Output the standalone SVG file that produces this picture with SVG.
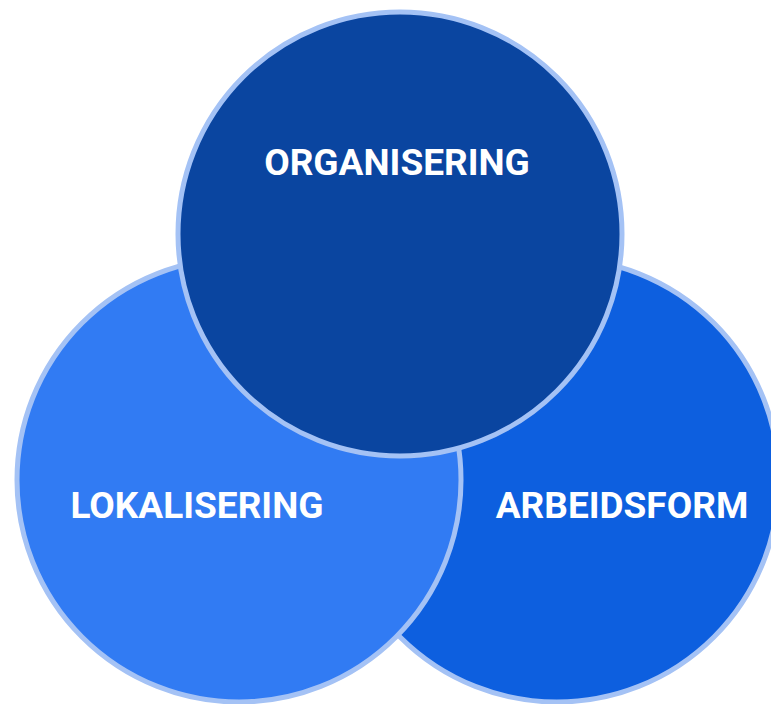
<svg xmlns="http://www.w3.org/2000/svg" width="771" height="704" viewBox="0 0 771 704">
<style>
.c{stroke:#a4c2f5;stroke-width:5}
.t{font-family:Roboto,"Liberation Sans",sans-serif;font-weight:bold;font-size:37px;fill:#ffffff;text-anchor:middle}
</style>
<rect width="771" height="704" fill="#ffffff"/>
<g id="arbeidsform">
<circle class="c" cx="557" cy="480" r="222" fill="#0d5fdf"/>
<text class="t" x="622" y="518">ARBEIDSFORM</text>
</g>
<g id="lokalisering">
<circle class="c" cx="239" cy="480" r="222" fill="#317bf3"/>
<text class="t" x="197" y="518">LOKALISERING</text>
</g>
<g id="organisering">
<circle class="c" cx="400" cy="234" r="222" fill="#0a45a0"/>
<text class="t" x="397" y="175">ORGANISERING</text>
</g>
<g id="connectors"/>
</svg>
